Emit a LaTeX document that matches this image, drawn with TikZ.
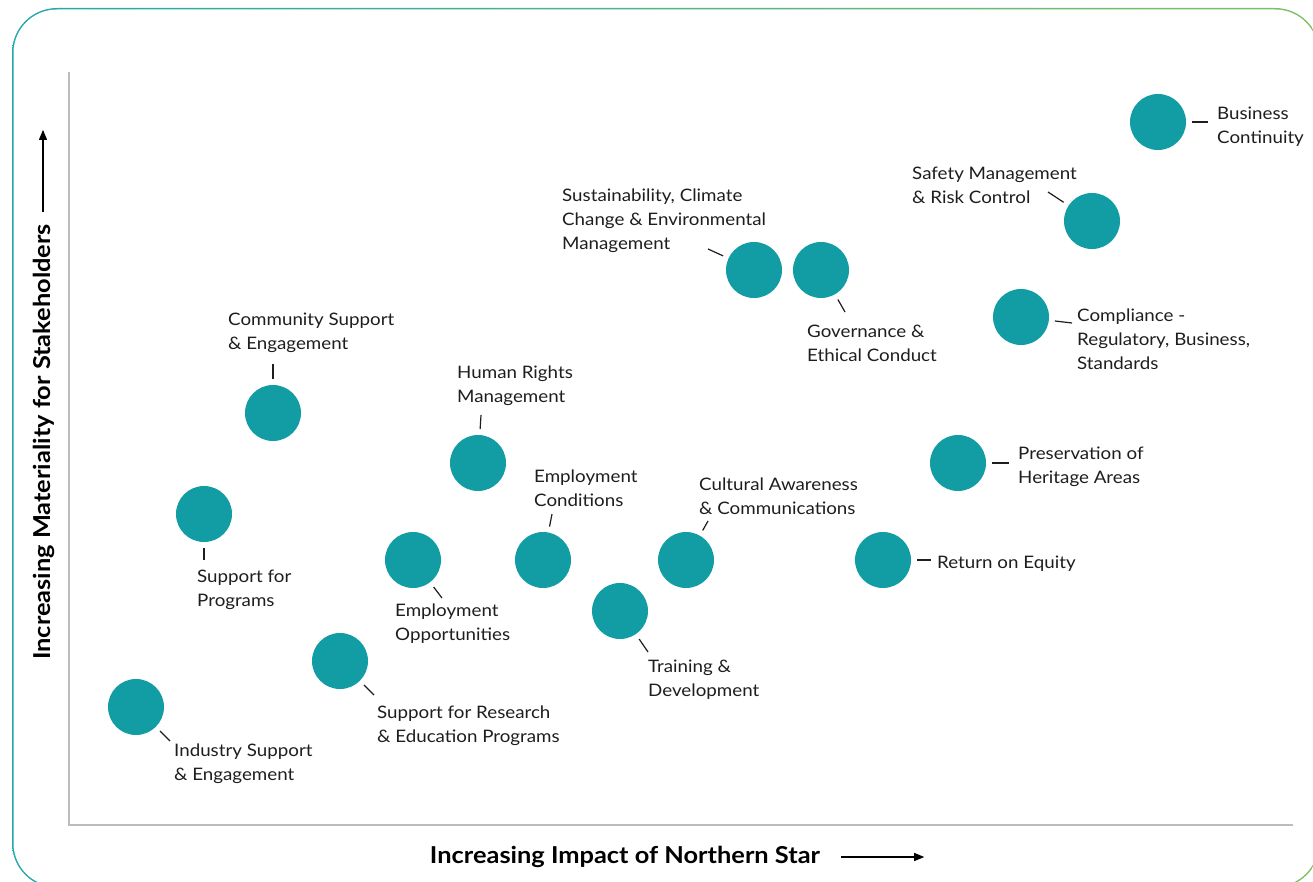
\documentclass[tikz,border=0pt]{standalone}
\usepackage{fontspec}
\setmainfont{Lato}[FakeStretch=1.09]
\usetikzlibrary{arrows.meta,calc}

\definecolor{dotteal}{HTML}{129DA5}
\definecolor{frameteal}{HTML}{22A8AB}
\definecolor{framegreen}{HTML}{7DC162}
\definecolor{axisgrey}{HTML}{BDBBBB}
\definecolor{ink}{HTML}{1E1E1E}

\tikzset{
    dot/.style={circle, fill=dotteal, minimum size=56pt, inner sep=0pt, outer sep=6pt},
    lbl/.style={anchor=west, align=left, inner sep=0pt, text=ink, yshift=-2pt,
        font=\fontsize{17.2}{24}\selectfont},
    tick/.style={line width=1.2pt, ink},
    axis/.style={line width=1.5pt, axisgrey},
    axislbl/.style={inner sep=0pt, font=\fontsize{23.3}{26}\selectfont\bfseries},
    axisarrow/.style={line width=1.1pt, -{Triangle[length=10pt,width=8pt]}}
}

\begin{document}
\begin{tikzpicture}[x=1pt,y=-1pt]
    \useasboundingbox (0,0) rectangle (1313,882);

    % Frame
    \shade[left color=frameteal, right color=framegreen, rounded corners=45pt]
        (12,8) rectangle (1320,888);
    \fill[white, rounded corners=43.5pt] (13.5,9.5) rectangle (1318.5,886.5);

    % Axes
    \draw[axis] (69,72) -- (69,825) -- (1293,825);
    \node[axislbl, rotate=90] (ylab) at (44,442) {Increasing Materiality for Stakeholders};
    \draw[axisarrow] ($(ylab.east)+(-1,-12)$) -- ++(0,-82);
    \node[axislbl] (xlab) at (625,857) {Increasing Impact of Northern Star};
    \draw[axisarrow] ($(xlab.east)+(21,0)$) -- ++(83,0);

    % Industry Support
    \node[dot] (ind) at (136,707) {};
    \node[lbl] (indl) at (174,762) {Industry Support\\\& Engagement};
    \draw[tick] (ind) -- ($(ind)+(34,34)$);

    % Research & Education
    \node[dot] (res) at (340,661) {};
    \node[lbl] (resl) at (377,724) {Support for Research\\\& Education Programs};
    \draw[tick] (res) -- ($(res)+(34,34)$);

    % Support for Programs
    \node[dot] (prog) at (204,514) {};
    \node[lbl] (progl) at (197,588) {Support for\\Programs};
    \draw[tick] (prog) -- ($(prog)+(0,46)$);

    % Community Support
    \node[dot] (comm) at (273,413) {};
    \node[lbl] (comml) at (228,331) {Community Support\\\& Engagement};
    \draw[tick] (comm) -- ($(comm)+(0,-49)$);

    % Employment Opportunities
    \node[dot] (eopp) at (413,560) {};
    \node[lbl] (eoppl) at (395,622) {Employment\\Opportunities};
    \draw[tick] (eopp) -- ($(eopp)+(29,38)$);

    % Human Rights
    \node[dot] (hr) at (478,463) {};
    \node[lbl] (hrl) at (457,384) {Human Rights\\Management};
    \draw[tick] (hr) -- ($(hr)+(3,-48)$);

    % Employment Conditions
    \node[dot] (econ) at (543,560) {};
    \node[lbl] (econl) at (534,486) {Employment\\Conditions};
    \draw[tick] (econ) -- ($(econ)+(9,-46)$);

    % Training
    \node[dot] (train) at (620,611) {};
    \node[lbl] (trainl) at (648,678) {Training \&\\Development};
    \draw[tick] (train) -- ($(train)+(28,41)$);

    % Cultural Awareness
    \node[dot] (cult) at (686,560) {};
    \node[lbl] (cultl) at (699,494) {Cultural Awareness\\\& Communications};
    \draw[tick] (cult) -- ($(cult)+(22,-39)$);

    % Return on Equity
    \node[dot] (roe) at (883,560) {};
    \node[lbl] (roel) at (937,562) {Return on Equity};
    \draw[tick] (roe) -- ($(roe)+(48,0)$);

    % Heritage Areas
    \node[dot] (her) at (958,463) {};
    \node[lbl] (herl) at (1018,465) {Preservation of\\Heritage Areas};
    \draw[tick] (her) -- ($(her)+(51,0)$);

    % Compliance
    \node[dot] (comp) at (1021,317) {};
    \node[lbl] (compl) at (1077,337) {Compliance -\\Regulatory, Business,\\Standards};
    \draw[tick] (comp) -- ($(comp)+(51,6)$);

    % Governance
    \node[dot] (gov) at (821,270) {};
    \node[lbl] (govl) at (807,341) {Governance \&\\Ethical Conduct};
    \draw[tick] (gov) -- ($(gov)+(24,42)$);

    % Sustainability
    \node[dot] (sus) at (754,270) {};
    \node[lbl] (susl) at (562,219) {Sustainability, Climate\\Change \& Environmental\\Management};
    \draw[tick] (sus) -- ($(sus)+(-46,-21)$);

    % Safety
    \node[dot] (safe) at (1092,221) {};
    \node[lbl] (safel) at (912,183) {Safety Management\\\& Risk Control};
    \draw[tick] (safe) -- ($(safe)+(-44,-29)$);

    % Business Continuity
    \node[dot] (bus) at (1158,122) {};
    \node[lbl] (busl) at (1217,125) {Business\\Continuity};
    \draw[tick] (bus) -- ($(bus)+(50,0)$);
\end{tikzpicture}
\end{document}
